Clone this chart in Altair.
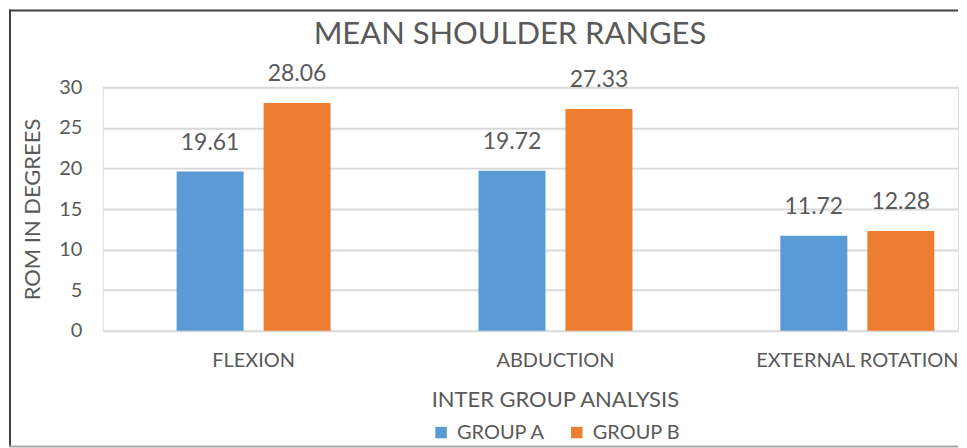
import altair as alt
import pandas as pd

categories = ["FLEXION", "ABDUCTION", "EXTERNAL ROTATION"]
groups = ["GROUP A", "GROUP B"]
group_a = [19.61, 19.72, 11.72]
group_b = [28.06, 27.33, 12.28]
y_ticks = [0, 5, 10, 15, 20, 25, 30]
chart_title = "MEAN SHOULDER RANGES"

rows = []
for c, a, b in zip(categories, group_a, group_b):
    rows.append({"cat": c, "grp": "GROUP A", "val": a, "lbl": f"{a:.2f}"})
    rows.append({"cat": c, "grp": "GROUP B", "val": b, "lbl": f"{b:.2f}"})
df = pd.DataFrame(rows)

FONT = "Lato"
GRAY = "#595959"
W, H = 857, 244

y_scale = alt.Scale(domain=[0, 30], nice=False)

x_enc = alt.X("cat:N", sort=categories,
              scale=alt.Scale(paddingInner=0.49, paddingOuter=0.1615, align=0.757),
              axis=alt.Axis(title="INTER GROUP ANALYSIS", labelAngle=0, domain=False, ticks=False,
                            grid=False,
                            labelPadding=20, labelFontSize=20, labelColor=GRAY, labelFont=FONT,
                            labelLimit=0,
                            titleFontSize=22, titleColor=GRAY, titleFont=FONT, titleFontWeight="normal",
                            titlePadding=19, titleX=453))
xo_enc = alt.XOffset("grp:N", sort=groups, scale=alt.Scale(paddingInner=0.23, paddingOuter=0))

base = alt.Chart(df)

bars = base.mark_bar().encode(
    x=x_enc,
    xOffset=xo_enc,
    y=alt.Y("val:Q", scale=y_scale,
            axis=alt.Axis(title="ROM IN DEGREES", values=y_ticks, domain=False, ticks=False,
                          grid=True, gridColor="#D9D9D9", gridWidth=2,
                          labelPadding=21, labelFontSize=20, labelColor=GRAY, labelFont=FONT,
                          titleFontSize=22, titleColor=GRAY, titleFont=FONT, titleFontWeight="normal",
                          titlePadding=14)),
    color=alt.Color("grp:N", sort=groups,
                    scale=alt.Scale(domain=groups, range=["#5B9BD5", "#ED7D31"]),
                    legend=alt.Legend(title=None, orient="none", legendX=329, legendY=336,
                                      direction="horizontal", symbolType="square", symbolSize=132,
                                      symbolStrokeWidth=0, labelFontSize=20, labelColor=GRAY,
                                      labelFont=FONT, labelOffset=6, columnPadding=21)),
)

labels = base.mark_text(baseline="bottom", dy=-17, fontSize=23, font=FONT, color=GRAY).encode(
    x=alt.X("cat:N", sort=categories),
    xOffset=alt.XOffset("grp:N", sort=groups),
    y=alt.Y("val:Q"),
    text="lbl:N",
)

one = alt.Data(values=[{"k": 1}])
title_mark = alt.Chart(one).mark_text(fontSize=31, font=FONT, color=GRAY, baseline="alphabetic",
                                      align="center").encode(
    x=alt.value(408), y=alt.value(-43), text=alt.value(chart_title))
left_border = alt.Chart(one).mark_rule(color="#404040", strokeWidth=2).encode(
    x=alt.value(-93), y=alt.value(-78), y2=alt.value(360))
top_border = alt.Chart(one).mark_rule(color="#404040", strokeWidth=2).encode(
    x=alt.value(-94), x2=alt.value(W), y=alt.value(-77))
bottom_border = alt.Chart(one).mark_rule(color="#A6A6A6", strokeWidth=2).encode(
    x=alt.value(-94), x2=alt.value(W), y=alt.value(360))

chart = alt.layer(bars, labels, title_mark, left_border, top_border, bottom_border).properties(
    width=W, height=H,
).configure_view(stroke=None).configure(padding=0, background="white")

chart.save("out.html", embed_options={"renderer": "svg", "actions": False})
